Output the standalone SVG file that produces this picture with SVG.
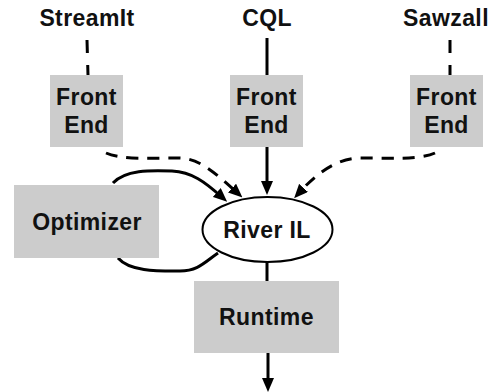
<svg xmlns="http://www.w3.org/2000/svg" width="494" height="392" viewBox="0 0 494 392">
<style>
text{font-family:"Liberation Sans",Arial,sans-serif;font-weight:bold;font-size:23px;letter-spacing:0.4px;fill:#111;text-anchor:middle}
.box{fill:#cccccc}
.c{fill:none;stroke:#000;stroke-width:3}
.d{stroke-dasharray:12 9}
.v{stroke-dasharray:13 12}
</style>
<defs>
<marker id="ah" viewBox="0 0 14 12" refX="6" refY="6" markerWidth="14" markerHeight="12" markerUnits="userSpaceOnUse" orient="auto">
<path d="M0,0 L14,6 L0,12 Z" fill="#000"/>
</marker>
</defs>
<g id="connectors">
<path class="c v" d="M87,40 L88,75"/>
<path class="c" d="M267,38 L267,75"/>
<path class="c v" d="M450,40 L450,75"/>
<path class="c d" d="M106,153 C122,160 150,158 178,158 C198,158 212,170 236.5,192.2" marker-end="url(#ah)"/>
<path class="c" d="M267,147 L267,187" marker-end="url(#ah)"/>
<path class="c d" d="M435,153 C420,160 390,158 360,158 C338,158 318,172 299.5,192.3" marker-end="url(#ah)"/>
<path class="c" d="M113,183 C125,170 150,170 172,171 C192,172 205,182 221.2,196.5" marker-end="url(#ah)"/>
<path class="c" d="M118,258 C130,272 160,271 180,271 C198,271 205,262 218,253"/>
<path class="c" d="M267,262 L267,281"/>
<path class="c" d="M268,353 L268,384" marker-end="url(#ah)"/>
</g>
<g id="streamit"><text x="87" y="26">StreamIt</text></g>
<g id="cql"><text x="267" y="26">CQL</text></g>
<g id="sawzall"><text x="446" y="26">Sawzall</text></g>
<g id="fe1"><rect class="box" x="50" y="75" width="73" height="72"/><text x="86.5" y="105">Front</text><text x="86.5" y="133">End</text></g>
<g id="fe2"><rect class="box" x="230" y="75" width="73" height="72"/><text x="266.5" y="105">Front</text><text x="266.5" y="133">End</text></g>
<g id="fe3"><rect class="box" x="410" y="75" width="73" height="72"/><text x="446.5" y="105">Front</text><text x="446.5" y="133">End</text></g>
<g id="optimizer"><rect class="box" x="14" y="185" width="145" height="73"/><text x="87" y="230">Optimizer</text></g>
<g id="riveril"><ellipse cx="267.5" cy="229.5" rx="65" ry="32.5" fill="#fff" stroke="#000" stroke-width="2"/><text x="267" y="238">River IL</text></g>
<g id="runtime"><rect class="box" x="194" y="281" width="145" height="72"/><text x="266.5" y="325">Runtime</text></g>
</svg>
